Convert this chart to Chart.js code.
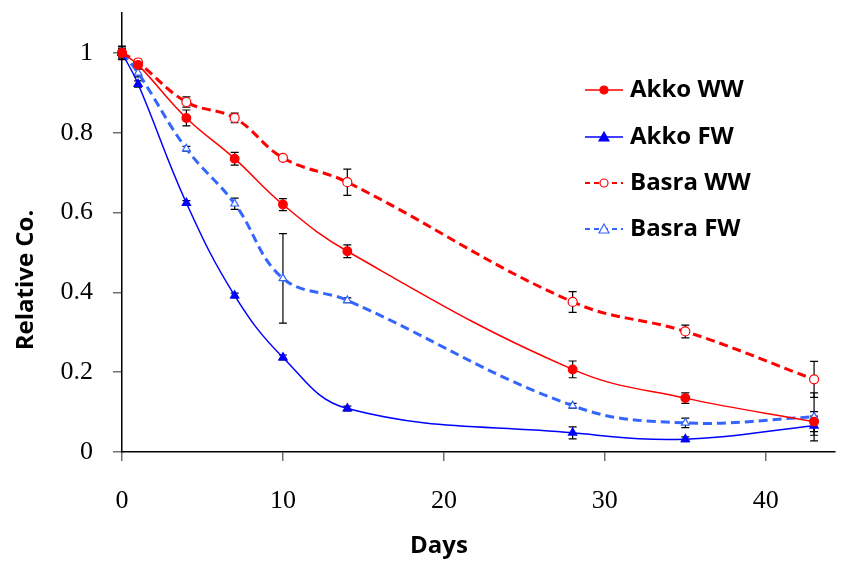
<!DOCTYPE html>
<html>
<head>
<meta charset="utf-8">
<script src="https://cdn.jsdelivr.net/npm/chart.js@4.4.0/dist/chart.umd.min.js"></script>
<style>
  html, body { margin: 0; padding: 0; background: #fff; }
  #wrap { width: 841px; height: 561px; }
</style>
</head>
<body>
<div id="wrap"><canvas id="chart" width="841" height="561"></canvas></div>
<script>
  // Days sampled
  const days = [0, 1, 4, 7, 10, 14, 28, 35, 43];

  // Relative concentration per series
  const akkoWW  = [1.00, 0.97, 0.837, 0.735, 0.620, 0.503, 0.207, 0.135, 0.076];
  const akkoFW  = [1.00, 0.922, 0.624, 0.392, 0.237, 0.109, 0.048, 0.032, 0.066];
  const basraWW = [1.00, 0.976, 0.877, 0.837, 0.737, 0.676, 0.376, 0.302, 0.182];
  const basraFW = [1.00, 0.950, 0.760, 0.622, 0.435, 0.380, 0.116, 0.073, 0.088];

  // Error bar half-widths
  const akkoWWErr  = [0.015, 0.010, 0.020, 0.016, 0.015, 0.016, 0.021, 0.013, 0.025];
  const akkoFWErr  = [0.010, 0.008, 0.006, 0.006, 0.006, 0.006, 0.015, 0.006, 0.024];
  const basraWWErr = [0.017, 0.008, 0.013, 0.012, 0.006, 0.033, 0.026, 0.016, 0.045];
  const basraFWErr = [0.010, 0.010, 0.006, 0.014, 0.112, 0.006, 0.006, 0.012, 0.060];

  const yTicks = [0, 0.2, 0.4, 0.6, 0.8, 1];
  const xTicks = [0, 10, 20, 30, 40];

  const seriesNames = ['Akko WW', 'Akko FW', 'Basra WW', 'Basra FW'];

  function pts(vals) {
    return days.map((d, i) => ({ x: d, y: vals[i] }));
  }

  const datasets = [
    {
      label: seriesNames[0], data: pts(akkoWW), err: akkoWWErr,
      borderColor: '#ff0000', backgroundColor: '#ff0000', borderWidth: 1.5,
      pointStyle: 'circle', pointRadius: 4.2, pointBackgroundColor: '#ff0000', pointBorderColor: '#ff0000'
    },
    {
      label: seriesNames[1], data: pts(akkoFW), err: akkoFWErr,
      borderColor: '#0000ff', backgroundColor: '#0000ff', borderWidth: 1.5,
      pointStyle: 'triangle', pointRadius: 4.5, pointBackgroundColor: '#0000ff', pointBorderColor: '#0000ff'
    },
    {
      label: seriesNames[2], data: pts(basraWW), err: basraWWErr,
      borderColor: '#ff0000', backgroundColor: '#ff0000', borderWidth: 3, borderDash: [9, 5],
      pointStyle: 'circle', pointRadius: 4.5, pointBackgroundColor: '#ffffff', pointBorderColor: '#ff0000', pointBorderWidth: 1.2
    },
    {
      label: seriesNames[3], data: pts(basraFW), err: basraFWErr,
      borderColor: '#3366ff', backgroundColor: '#3366ff', borderWidth: 3, borderDash: [9, 5],
      pointStyle: 'triangle', pointRadius: 4.5, pointBackgroundColor: '#ffffff', pointBorderColor: '#3366ff', pointBorderWidth: 1.2
    }
  ];

  // error bars, drawn under markers
  const errorBars = {
    id: 'errorBars',
    beforeDatasetsDraw(chart) {
      const { ctx, scales: { x, y } } = chart;
      ctx.save();
      ctx.strokeStyle = '#000';
      ctx.lineWidth = 1.2;
      chart.data.datasets.forEach(ds => {
        ds.data.forEach((p, i) => {
          const e = ds.err[i];
          const px = x.getPixelForValue(p.x);
          const top = y.getPixelForValue(p.y + e);
          const bot = y.getPixelForValue(p.y - e);
          ctx.beginPath();
          ctx.moveTo(px, top); ctx.lineTo(px, bot);
          ctx.moveTo(px - 4, top); ctx.lineTo(px + 4, top);
          ctx.moveTo(px - 4, bot); ctx.lineTo(px + 4, bot);
          ctx.stroke();
        });
      });
      ctx.restore();
    }
  };

  // legend inside the plot and axis titles
  const overlay = {
    id: 'overlay',
    afterDraw(chart) {
      const { ctx } = chart;
      ctx.save();
      const rows = [90, 137, 183, 229];
      chart.data.datasets.forEach((ds, i) => {
        const yy = rows[i];
        ctx.strokeStyle = ds.borderColor;
        ctx.lineWidth = ds.borderDash ? 2 : 1.5;
        ctx.setLineDash(ds.borderDash ? [5, 4] : []);
        ctx.beginPath();
        ctx.moveTo(585, yy); ctx.lineTo(623, yy);
        ctx.stroke();
        ctx.setLineDash([]);
        ctx.fillStyle = ds.pointBackgroundColor;
        ctx.lineWidth = 1.2;
        ctx.beginPath();
        if (ds.pointStyle === 'circle') {
          ctx.arc(604, yy, 4, 0, Math.PI * 2);
        } else {
          ctx.moveTo(604, yy - 5); ctx.lineTo(609, yy + 4); ctx.lineTo(599, yy + 4); ctx.closePath();
        }
        ctx.fill(); ctx.stroke();
        ctx.fillStyle = '#000';
        ctx.font = 'bold 24px "Open Sans"';
        ctx.textBaseline = 'middle';
        ctx.textAlign = 'left';
        ctx.fillText(ds.label, 630, yy);
      });

      ctx.font = 'bold 24px "Open Sans"';
      ctx.fillStyle = '#000';
      ctx.textAlign = 'center';
      ctx.textBaseline = 'middle';
      ctx.fillText('Days', 439, 546);
      ctx.translate(26, 280);
      ctx.rotate(-Math.PI / 2);
      ctx.fillText('Relative Co.', 0, 0);
      ctx.restore();
    }
  };

  new Chart(document.getElementById('chart'), {
    type: 'line',
    data: { datasets },
    options: {
      responsive: false,
      animation: false,
      layout: { padding: { top: 13, right: 0, left: 0, bottom: 0 } },
      elements: { line: { tension: 0.4, fill: false } },
      datasets: { line: { clip: false } },
      plugins: { legend: { display: false }, tooltip: { enabled: false } },
      scales: {
        x: {
          type: 'linear', min: 0, max: 44.3,
          afterFit: s => { s.height = 109; s.paddingLeft = 0; s.paddingRight = 0; },
          afterBuildTicks: s => { s.ticks = xTicks.map(v => ({ value: v })); },
          border: { color: '#000', width: 1.5 },
          grid: { drawOnChartArea: false, drawTicks: true, tickLength: 9, color: '#707070', lineWidth: 1.5 },
          ticks: { color: '#000', padding: 25, font: { family: '"Liberation Serif"', size: 26 }, maxRotation: 0 }
        },
        y: {
          type: 'linear', min: 0, max: 1.1,
          afterFit: s => { s.width = 122; s.paddingTop = 0; s.paddingBottom = 0; },
          afterBuildTicks: s => { s.ticks = yTicks.map(v => ({ value: v })); },
          border: { color: '#000', width: 1.5 },
          grid: { drawOnChartArea: false, drawTicks: true, tickLength: 9, color: '#707070', lineWidth: 1.5 },
          ticks: { color: '#000', padding: 20, font: { family: '"Liberation Serif"', size: 26 },
                   callback: v => String(Math.round(v * 10) / 10) }
        }
      }
    },
    plugins: [errorBars, overlay]
  });
</script>
</body>
</html>
